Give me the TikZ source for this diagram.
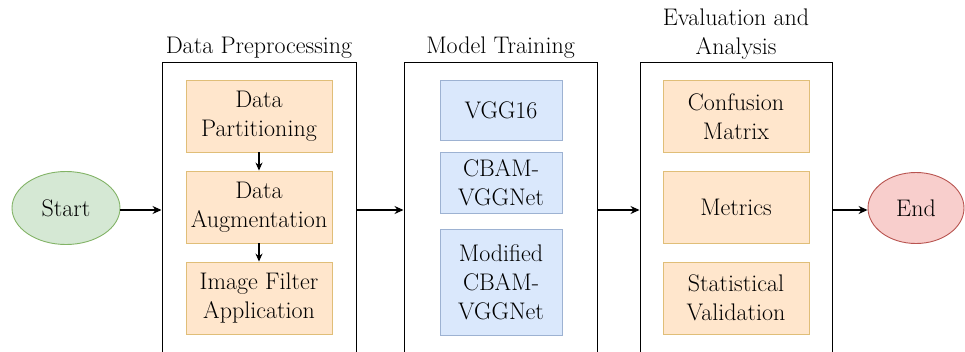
\documentclass[tikz,border=0pt]{standalone}
\usetikzlibrary{arrows.meta,shapes.geometric}
\definecolor{orfill}{HTML}{FFE6CC}
\definecolor{ordraw}{HTML}{E0BE78}
\definecolor{blfill}{HTML}{DAE8FC}
\definecolor{bldraw}{HTML}{9DB2D2}
\definecolor{grfill}{HTML}{D5E8D4}
\definecolor{grdraw}{HTML}{82B366}
\definecolor{rdfill}{HTML}{F8CECC}
\definecolor{rddraw}{HTML}{B85450}
\tikzset{
  txt/.style={font=\rmfamily\fontsize{24}{29}\selectfont, align=center, text=black},
  stage/.style={draw=black, line width=1pt, minimum width=#1, minimum height=298pt, inner sep=0pt},
  orbox/.style={txt, draw=ordraw, fill=orfill, line width=0.9pt, minimum width=146pt, minimum height=72pt, inner sep=0pt},
  blbox/.style={txt, draw=bldraw, fill=blfill, line width=0.9pt, minimum width=122pt, inner sep=0pt},
  term/.style={txt, ellipse, line width=0.9pt, inner sep=0pt},
  flow/.style={line width=1.1pt, -{Stealth[length=9pt,width=8pt]}},
  small/.style={line width=1.1pt, -{Stealth[length=8pt,width=7pt]}}
}
\begin{document}
\begin{tikzpicture}[x=1pt,y=-1pt]
\useasboundingbox (0,0) rectangle (965,351);
\clip (0,0) rectangle (965,351);

% terminals
\node[term, draw=grdraw, fill=grfill, minimum width=108pt, minimum height=73pt] (start) at (66,208) {Start};
\node[term, draw=rddraw, fill=rdfill, minimum width=96pt, minimum height=71pt] (end) at (916,208) {End};

% stage frames (open toward the bottom edge)
\node[stage=194pt] (pre) at (259,211) {};
\node[stage=193pt] (train) at (500.5,211) {};
\node[stage=192pt] (eval) at (736,211) {};

% stage titles
\node[txt, anchor=south] (tpre) at (259,62) {Data Preprocessing};
\node[txt, anchor=south] (ttrain) at (500.5,62) {Model Training};
\node[txt, anchor=south] (teval) at (736,63) {Evaluation and\\Analysis};

% data preprocessing steps
\node[orbox] (part) at (259,116) {Data\\Partitioning};
\node[orbox] (aug) at (259,207) {Data\\Augmentation};
\node[orbox] (filt) at (259,298) {Image Filter\\Application};

% models
\node[blbox, minimum height=60pt] (vgg) at (501,110) {VGG16};
\node[blbox, minimum height=61pt] (cbam) at (501,182.5) {CBAM-\\VGGNet};
\node[blbox, minimum height=106pt] (mod) at (501,282) {Modified\\CBAM-\\VGGNet};

% evaluation steps
\node[orbox] (conf) at (736,116.5) {Confusion\\Matrix};
\node[orbox] (met) at (736,207) {Metrics};
\node[orbox] (stat) at (736,298) {Statistical\\Validation};

% connectors
\coordinate (y0) at (0,210);
\draw[flow] (start.east |- y0) -- (pre.west |- y0);
\draw[flow] (pre.east |- y0) -- (train.west |- y0);
\draw[flow] (train.east |- y0) -- (eval.west |- y0);
\draw[flow] (eval.east |- y0) -- (end.west |- y0);
\draw[small] (part) -- (aug);
\draw[small] (aug) -- (filt);
\end{tikzpicture}
\end{document}
